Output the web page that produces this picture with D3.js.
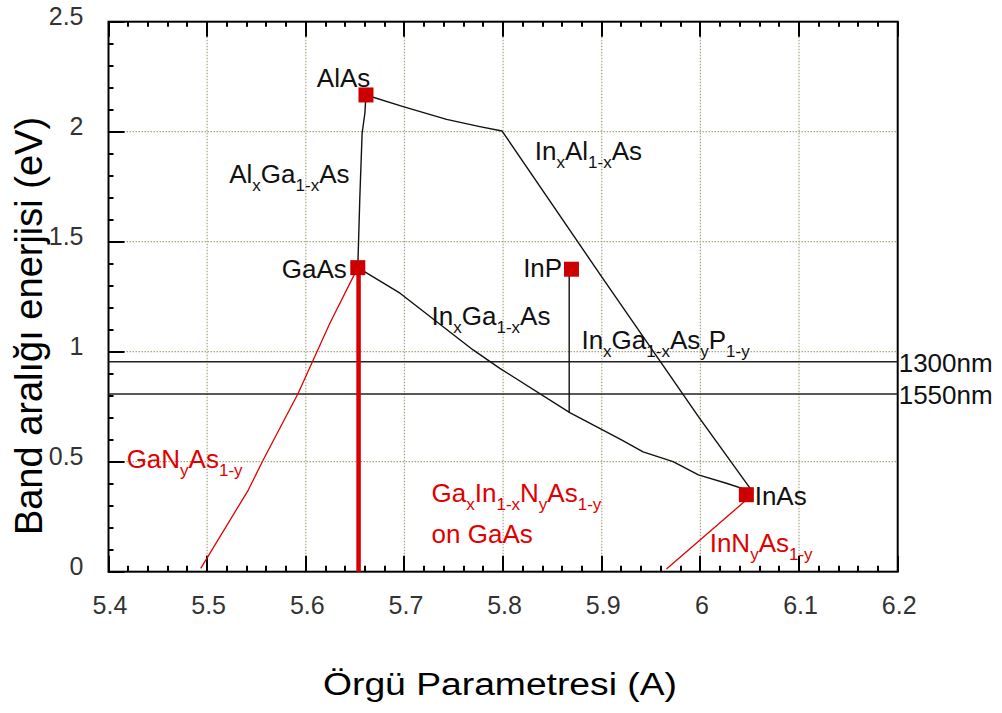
<!DOCTYPE html>
<html>
<head>
<meta charset="utf-8">
<script src="https://cdn.jsdelivr.net/npm/d3@7"></script>
<style>
  body { margin: 0; background: #fff; }
  text { font-family: "Liberation Sans", Arial, sans-serif; }
</style>
</head>
<body>
<svg id="chart" width="1002" height="713"></svg>
<script>
// Axis ticks and labels
const xTicks = [5.4, 5.5, 5.6, 5.7, 5.8, 5.9, 6.0, 6.1, 6.2];
const xTickLabels = ["5.4", "5.5", "5.6", "5.7", "5.8", "5.9", "6", "6.1", "6.2"];
const yTicks = [0, 0.5, 1, 1.5, 2, 2.5];
const yTickLabels = ["0", "0.5", "1", "1.5", "2", "2.5"];

// Binary compounds: lattice constant (A) and band gap (eV)
const compounds = ["AlAs", "GaAs", "InP", "InAs"];
const compoundA = [5.661, 5.6527, 5.8693, 6.0466];
const compoundEg = [2.167, 1.382, 1.375, 0.350];

// Ternary / quaternary curves, [lattice constant, band gap]
const alGaAs = [[5.6527, 1.382], [5.6548, 1.705], [5.6571, 1.993], [5.6599, 2.085], [5.661, 2.167]];
const inAlAs = [[5.661, 2.167], [5.6987, 2.114], [5.7427, 2.056], [5.7764, 2.023], [5.799, 2.003],
                [5.90, 1.34], [5.998, 0.705], [6.053, 0.363]];
const inGaAs = [[5.6527, 1.382], [5.6955, 1.266], [5.7696, 1.008], [5.7967, 0.9245], [5.8676, 0.7227],
                [5.92, 0.599], [5.9419, 0.545], [5.9723, 0.50], [5.998, 0.44], [6.0263, 0.402], [6.053, 0.363]];
const inGaAsP = [[5.867, 1.375], [5.867, 0.724]];
const gaNAs = [[5.4935, 0.015], [5.5417, 0.371], [5.5568, 0.508], [5.5923, 0.811], [5.6075, 0.962],
               [5.6244, 1.129], [5.6527, 1.382]];
const inNAs = [[5.9656, 0.012], [6.045, 0.32]];
const gaInNAs = [[5.6535, 0], [5.6535, 1.382]];

// Telecom wavelengths drawn as horizontal band-gap lines
const wavelengths = ["1300nm", "1550nm"];
const wavelengthEg = [0.954, 0.808];

// Text annotations ({...} = subscript), anchored in data units
const blackLabels = [
  { t: "AlAs", a: 5.6112, e: 2.203 },
  { t: "Al{x}Ga{1-x}As", a: 5.5224, e: 1.765 },
  { t: "GaAs", a: 5.6416, e: 1.335, end: true },
  { t: "InP", a: 5.8203, e: 1.338 },
  { t: "In{x}Ga{1-x}As", a: 5.7275, e: 1.121 },
  { t: "In{x}Al{1-x}As", a: 5.8321, e: 1.871 },
  { t: "In{x}Ga{1-x}As{y}P{1-y}", a: 5.8794, e: 1.011 },
  { t: "InAs", a: 6.055, e: 0.303 }
];
const redLabels = [
  { t: "GaN{y}As{1-y}", a: 5.4184, e: 0.470 },
  { t: "Ga{x}In{1-x}N{y}As{1-y}", a: 5.7275, e: 0.318 },
  { t: "on GaAs", a: 5.7275, e: 0.129 },
  { t: "InN{y}As{1-y}", a: 6.0094, e: 0.091 }
];

const svg = d3.select("#chart");
const L = 108.5, R = 897.7, T = 21.7, B = 571.7;

const x = d3.scaleLinear().domain([5.4, 6.2]).range([L, R]);
const y = d3.scaleLinear().domain([0, 2.5]).range([B, T]);

const RED = "#e00000";
const MARK = "#cc0000";
const GRID = "#a9a485";

// Dotted grid
const grid = svg.append("g")
  .attr("stroke", GRID).attr("stroke-width", 1.2).attr("stroke-dasharray", "1.5,1.5");
grid.selectAll("line.gx").data(xTicks.slice(1, -1)).join("line").attr("class", "gx")
  .attr("x1", d => x(d)).attr("x2", d => x(d)).attr("y1", T).attr("y2", B);
grid.selectAll("line.gy").data(yTicks.slice(1, -1)).join("line").attr("class", "gy")
  .attr("x1", L).attr("x2", R).attr("y1", d => y(d)).attr("y2", d => y(d));

// Inward ticks: minor every 0.02 A / 0.1 eV, major on labelled values
const xMinor = d3.range(0, 41).map(i => 5.4 + i * 0.02);
const yMinor = d3.range(0, 26).map(i => i * 0.1);
const ticks = svg.append("g").attr("stroke", "#000").attr("stroke-width", 2);
function vTicks(vals, y0, len) {
  ticks.append("g").selectAll("line").data(vals).join("line")
    .attr("x1", d => Math.round(x(d))).attr("x2", d => Math.round(x(d)))
    .attr("y1", y0).attr("y2", y0 + len);
}
function hTicks(vals, len) {
  ticks.append("g").selectAll("line").data(vals).join("line")
    .attr("y1", d => Math.round(y(d))).attr("y2", d => Math.round(y(d)))
    .attr("x1", L).attr("x2", L + len);
}
vTicks(xMinor, B, -6);
vTicks(xTicks, B, -16);
vTicks(xMinor, T, 5);
vTicks(xTicks, T, 15);
hTicks(yMinor, 5);
hTicks(yTicks, 16);

// Frame
svg.append("rect").attr("x", L).attr("y", T).attr("width", R - L).attr("height", B - T)
  .attr("fill", "none").attr("stroke", "#000").attr("stroke-width", 2);

// Tick labels
svg.append("g").selectAll("text").data(xTicks).join("text")
  .attr("x", d => x(d) + 1.5).attr("y", B + 42)
  .attr("text-anchor", "middle").attr("font-size", 25).attr("fill", "#333")
  .text((d, i) => xTickLabels[i]);
svg.append("g").selectAll("text").data(yTicks).join("text")
  .attr("x", L - 25).attr("y", d => y(d) + 3)
  .attr("text-anchor", "end").attr("font-size", 25).attr("fill", "#333")
  .text((d, i) => yTickLabels[i]);

// Wavelength lines
svg.append("g").selectAll("line").data(wavelengthEg).join("line")
  .attr("x1", L).attr("x2", R).attr("y1", d => y(d)).attr("y2", d => y(d))
  .attr("stroke", "#222").attr("stroke-width", 1.6);
svg.append("g").selectAll("text").data(wavelengthEg).join("text")
  .attr("x", R + 1).attr("y", d => y(d) + 10)
  .attr("font-size", 26).attr("fill", "#111")
  .text((d, i) => wavelengths[i]);

// Curves
const line = d3.line().x(d => x(d[0])).y(d => y(d[1]));
const curves = svg.append("g").attr("fill", "none").attr("stroke-linejoin", "round");
curves.append("path").datum(gaInNAs).attr("d", line).attr("stroke", "#d80000").attr("stroke-width", 4.5);
curves.append("path").datum(gaNAs).attr("d", line).attr("stroke", RED).attr("stroke-width", 1.3);
curves.append("path").datum(inNAs).attr("d", line).attr("stroke", RED).attr("stroke-width", 1.3);
[alGaAs, inAlAs, inGaAs, inGaAsP].forEach(c =>
  curves.append("path").datum(c).attr("d", line).attr("stroke", "#111").attr("stroke-width", 1.4));

// Compound markers
svg.append("g").selectAll("rect").data(compounds).join("rect")
  .attr("x", (d, i) => x(compoundA[i]) - 7.5).attr("y", (d, i) => y(compoundEg[i]) - 7.5)
  .attr("width", 15).attr("height", 15).attr("fill", MARK);

// Formula text with subscripts
function formula(g, lab, color) {
  const t = g.append("text")
    .attr("x", x(lab.a)).attr("y", y(lab.e))
    .attr("font-size", 26).attr("fill", color)
    .attr("text-anchor", lab.end ? "end" : "start");
  let sub = false;
  lab.t.split(/(\{[^}]*\})/).filter(s => s.length).forEach(part => {
    const isSub = part[0] === "{";
    const ts = t.append("tspan").text(isSub ? part.slice(1, -1) : part);
    if (isSub) { ts.attr("font-size", 17).attr("dy", sub ? 0 : 8); sub = true; }
    else { if (sub) ts.attr("dy", -8); sub = false; }
  });
}
const labels = svg.append("g");
blackLabels.forEach(l => formula(labels, l, "#111"));
redLabels.forEach(l => formula(labels, l, RED));

// Axis titles
svg.append("text")
  .attr("x", 500).attr("y", 695)
  .attr("text-anchor", "middle").attr("font-size", 31).attr("fill", "#000")
  .attr("textLength", 354).attr("lengthAdjust", "spacingAndGlyphs")
  .text("Örgü Parametresi (A)");
svg.append("text")
  .attr("transform", "translate(42,326) rotate(-90)")
  .attr("text-anchor", "middle").attr("font-size", 38).attr("fill", "#000")
  .text("Band aralığı enerjisi (eV)");
</script>
</body>
</html>
